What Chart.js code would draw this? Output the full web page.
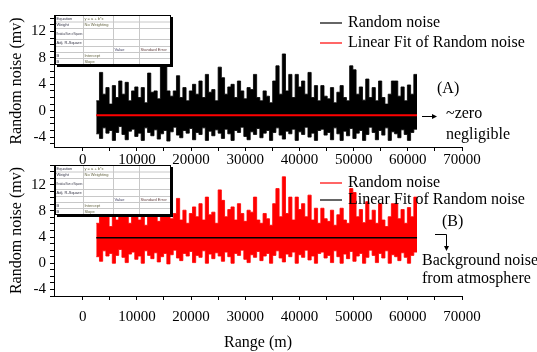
<!DOCTYPE html>
<html><head><meta charset="utf-8">
<script src="https://cdn.jsdelivr.net/npm/chart.js@4/dist/chart.umd.min.js"></script>
<style>
html,body{margin:0;padding:0;background:#fff;}
#wrap{position:relative;width:537px;height:352px;overflow:hidden;}
canvas{position:absolute;left:0;top:0;}
</style></head><body>
<div id="wrap"><canvas id="cA" width="537" height="352"></canvas><canvas id="cB" width="537" height="352"></canvas></div>
<script>
// ---- data ----
const rangeStart = 2500;      // first range sample (m)
const rangeStep = 592;        // spacing between samples (m)
const xTickValues = [0, 10000, 20000, 30000, 40000, 50000, 60000, 70000];
const yTickLabelsA = [-4, 0, 4, 8, 12];
const yTickLabelsB = [-4, 0, 4, 8, 12];
const seriesNames = ['Random noise', 'Linear Fit of Random noise'];

// Panel (A): peaks and troughs of the random noise (mV)
const noiseHighA = [
 1.5, 5.8, 2.5, 3.5, 1.0, 3.8, 2.0, 4.5, 2.5, 4.3,
 1.5, 3.0, 3.6, 2.0, 3.5, 1.2, 5.7, 2.8, 3.0, 1.8,
 7.5, 8.0, 3.0, 2.2, 3.0, 5.3, 2.0, 3.5, 1.5, 3.0,
 4.0, 2.5, 4.5, 2.0, 5.5, 2.8, 3.2, 1.5, 6.6, 5.0,
 2.5, 3.6, 4.0, 2.0, 4.5, 3.0, 1.8, 3.5, 3.2, 5.5,
 2.0, 1.5, 3.0, 2.2, 1.2, 4.5, 6.8, 2.5, 8.6, 3.0,
 5.5, 2.0, 5.5, 3.6, 4.5, 2.5, 5.8, 2.0, 3.8, 1.5,
 3.8, 2.2, 1.8, 3.5, 1.2, 2.8, 3.8, 2.0, 1.5, 6.8,
 6.2, 2.5, 3.6, 1.6, 4.8, 2.0, 3.5, 1.5, 4.5, 2.0,
 1.0, 2.5, 4.5, 4.5, 2.2, 3.6, 1.5, 3.9, 2.5, 5.5
];
const noiseLowA = [
 -3.5,-4.2,-2.6,-3.4,-3.0,-4.5,-3.3,-2.4,-3.6,-4.4,
 -3.1,-2.8,-3.9,-3.4,-4.5,-2.6,-3.3,-3.8,-2.9,-4.3,
 -3.5,-3.0,-4.6,-3.2,-2.5,-3.7,-4.1,-3.0,-3.4,-2.7,
 -4.4,-3.3,-3.6,-2.6,-4.5,-3.1,-3.8,-2.9,-3.4,-4.2,
 -2.8,-3.5,-4.5,-3.0,-3.3,-2.5,-3.9,-4.4,-3.2,-3.6,
 -2.7,-4.1,-3.4,-3.0,-4.5,-3.3,-2.6,-3.7,-4.3,-3.1,
 -3.5,-2.8,-4.5,-3.2,-3.6,-2.5,-4.0,-3.4,-4.5,-3.0,
 -2.8,-3.7,-3.3,-4.4,-2.6,-3.5,-4.5,-3.1,-3.8,-2.7,
 -4.2,-3.4,-3.0,-4.5,-3.6,-2.5,-3.3,-4.4,-3.0,-3.7,
 -2.6,-4.5,-3.2,-3.5,-4.1,-2.9,-3.6,-4.5,-3.3,-2.8
];
// Panel (B): peaks and troughs of the random noise (mV)
const noiseHighB = [
 6.1, 10.4, 7.1, 8.1, 5.6, 8.4, 6.6, 9.1, 7.1, 8.9,
 6.1, 7.6, 8.2, 6.6, 8.1, 5.8, 10.3, 7.4, 7.6, 6.4,
 12.1, 12.6, 7.6, 6.8, 7.6, 9.9, 6.6, 8.1, 6.1, 7.6,
 8.6, 7.1, 9.1, 6.6, 10.1, 7.4, 7.8, 6.1, 11.2, 9.6,
 7.1, 8.2, 8.6, 6.6, 9.1, 7.6, 6.4, 8.1, 7.8, 10.1,
 6.6, 6.1, 7.6, 6.8, 5.8, 9.1, 11.4, 7.1, 13.2, 7.6,
 10.1, 6.6, 10.1, 8.2, 9.1, 7.1, 10.4, 6.6, 8.4, 6.1,
 8.4, 6.8, 6.4, 8.1, 5.8, 7.4, 8.4, 6.6, 6.1, 11.4,
 10.8, 7.1, 8.2, 6.2, 9.4, 6.6, 8.1, 6.1, 9.1, 6.6,
 5.6, 7.1, 9.1, 9.1, 6.8, 8.2, 6.1, 8.5, 7.1, 10.1
];
const noiseLowB = [
 1.0,0.3,1.9,1.1,1.5,0.0,1.2,2.1,0.9,0.1,
 1.4,1.7,0.6,1.1,0.0,1.9,1.2,0.7,1.6,0.2,
 1.0,1.5,-0.1,1.3,2.0,0.8,0.4,1.5,1.1,1.8,
 0.1,1.2,0.9,1.9,0.0,1.4,0.7,1.6,1.1,0.3,
 1.7,1.0,0.0,1.5,1.2,2.0,0.6,0.1,1.3,0.9,
 1.8,0.4,1.1,1.5,0.0,1.2,1.9,0.8,0.2,1.4,
 1.0,1.7,0.0,1.3,0.9,2.0,0.5,1.1,0.0,1.5,
 1.7,0.8,1.2,0.1,1.9,1.0,0.0,1.4,0.7,1.8,
 0.3,1.1,1.5,0.0,0.9,2.0,1.2,0.1,1.5,0.8,
 1.9,0.0,1.3,1.0,0.4,1.6,0.9,0.0,1.2,1.7
];
const fitRange = [2500, 61700];
const fitA = [-0.7, -0.7];
const fitB = [3.9, 3.9];

const tableRows = [
 ['Equation', 'y = a + b*x', '', ''],
 ['Weight', 'No Weighting', '', ''],
 ['Residual Sum of Squares', '', '', ''],
 ['Adj. R-Square', '', '', ''],
 ['', '', 'Value', 'Standard Error'],
 ['B', 'Intercept', '', ''],
 ['B', 'Slope', '', '']
];

// ---- helpers ----
const SERIF = '"Liberation Serif", "DejaVu Serif", serif';
function envelope(vals) {
  const pts = vals.map((v, i) => ({x: rangeStart + i * rangeStep, y: v}));
  pts.push({x: rangeStart + vals.length * rangeStep, y: vals[vals.length - 1]});
  return pts;
}
function lineData(xs, ys) { return xs.map((x, i) => ({x: x, y: ys[i]})); }

function drawTable(ctx, x0, y0) {
  const colX = [x0, x0 + 28, x0 + 58, x0 + 84, x0 + 115];
  const rowY = [y0, y0 + 6.5, y0 + 13, y0 + 24, y0 + 31, y0 + 37, y0 + 43, y0 + 49];
  ctx.save();
  ctx.fillStyle = '#fff';
  ctx.fillRect(colX[0], rowY[0], colX[4] - colX[0], rowY[7] - rowY[0]);
  ctx.strokeStyle = '#c8c8c8';
  ctx.lineWidth = 1;
  for (let r = 1; r < 7; r++) {
    ctx.beginPath(); ctx.moveTo(colX[0], rowY[r] + 0.5); ctx.lineTo(colX[4], rowY[r] + 0.5); ctx.stroke();
  }
  for (let c = 1; c < 4; c++) {
    ctx.beginPath(); ctx.moveTo(colX[c] + 0.5, rowY[0]); ctx.lineTo(colX[c] + 0.5, rowY[7]); ctx.stroke();
  }
  ctx.strokeStyle = '#000';
  ctx.lineWidth = 1;
  ctx.strokeRect(colX[0] + 0.5, rowY[0] + 0.5, colX[4] - colX[0], rowY[7] - rowY[0]);
  ctx.lineWidth = 2;
  ctx.beginPath();
  ctx.moveTo(colX[4] + 2, rowY[0] + 2); ctx.lineTo(colX[4] + 2, rowY[7] + 2); ctx.lineTo(colX[0] + 2, rowY[7] + 2);
  ctx.stroke();
  ctx.font = '4px "Liberation Sans", sans-serif';
  ctx.textBaseline = 'middle';
  ctx.textAlign = 'left';
  const colors = ['#334', '#664', '#446', '#644'];
  tableRows.forEach((row, r) => {
    row.forEach((t, c) => {
      if (!t) return;
      ctx.fillStyle = colors[c];
      ctx.fillText(t, colX[c] + 1.5, (rowY[r] + rowY[r + 1]) / 2 + 0.5, colX[c + 1] - colX[c] - 2);
    });
  });
  ctx.restore();
}

function text(ctx, s, x, y) { ctx.fillText(s, x, y); }

function makePanel(canvasId, cfg) {
  const annot = {
    id: 'annot' + canvasId,
    afterDatasetsDraw(chart) {
      drawTable(chart.ctx, 55, cfg.tableTop);
    },
    afterDraw(chart) {
      const ctx = chart.ctx;
      ctx.save();
      ctx.font = '16px ' + SERIF;
      ctx.fillStyle = '#000';
      ctx.textBaseline = 'middle';
      ctx.textAlign = 'left';
      cfg.legend.forEach(item => {
        ctx.strokeStyle = item.color; ctx.lineWidth = item.width;
        ctx.beginPath(); ctx.moveTo(320, item.y); ctx.lineTo(342, item.y); ctx.stroke();
        text(ctx, item.label, 348, item.y);
      });
      cfg.extra(ctx);
      ctx.restore();
    }
  };
  return new Chart(document.getElementById(canvasId), {
    type: 'line',
    data: {
      datasets: [
        {label: seriesNames[1], data: lineData(fitRange, cfg.fit), borderColor: cfg.fitColor, borderWidth: cfg.fitWidth, pointRadius: 0, order: 0, fill: false},
        {label: seriesNames[0], data: envelope(cfg.high), stepped: 'before', borderColor: cfg.noiseColor, backgroundColor: cfg.noiseColor, borderWidth: 0.8, pointRadius: 0, order: 1, fill: '+1'},
        {label: seriesNames[0] + ' (low)', data: envelope(cfg.low), stepped: 'before', borderColor: cfg.noiseColor, borderWidth: 0.8, pointRadius: 0, order: 2, fill: false}
      ]
    },
    options: {
      responsive: false, animation: false, devicePixelRatio: 1,
      layout: {padding: {top: cfg.padTop, bottom: cfg.padBottom, left: 0, right: 75}},
      plugins: {legend: {display: false}, tooltip: {enabled: false}, filler: {propagate: false}},
      scales: {
        x: {
          type: 'linear', min: -5300, max: 70000,
          afterBuildTicks: s => { const t = []; for (let v = 0; v <= 70000; v += 5000) t.push({value: v}); s.ticks = t; },
          afterFit: s => { s.height = cfg.xHeight; },
          ticks: {autoSkip: false, maxRotation: 0, color: '#000', padding: cfg.xTickPad,
                  font: {family: SERIF, size: 15},
                  callback: v => (xTickValues.includes(v) ? String(v) : '')},
          grid: {drawOnChartArea: false, drawTicks: true, tickLength: 4, color: '#000'},
          border: {color: '#000', width: 1},
          title: {display: cfg.xTitle, text: 'Range (m)', color: '#000', font: {family: SERIF, size: 16}, padding: {top: 0, bottom: 0}}
        },
        y: {
          min: cfg.yMin, max: cfg.yMax,
          afterBuildTicks: s => { const t = []; for (let v = Math.ceil(cfg.yMin); v <= cfg.yMax; v += 1) t.push({value: v}); s.ticks = t; },
          afterFit: s => { s.width = 54; },
          ticks: {autoSkip: false, color: '#000', padding: 4, font: {family: SERIF, size: 15},
                  callback: v => (cfg.yLabels.includes(v) ? String(v) : '')},
          grid: {drawOnChartArea: false, drawTicks: true, tickLength: 4, color: '#000'},
          border: {color: '#000', width: 1},
          title: {display: true, text: 'Random noise (mv)', color: '#000', font: {family: SERIF, size: 16}, padding: {top: 7, bottom: 0}}
        }
      }
    },
    plugins: [annot]
  });
}

makePanel('cA', {
  high: noiseHighA, low: noiseLowA, fit: fitA,
  noiseColor: '#000000', fitColor: '#ff0000', fitWidth: 2,
  yMin: -5.5, yMax: 14.5, yLabels: yTickLabelsA,
  padTop: 15, padBottom: 187, xHeight: 18, xTickPad: 0, xTitle: false, tableTop: 15,
  legend: [{label: seriesNames[0], color: '#000', width: 1.2, y: 23}, {label: seriesNames[1], color: '#ff0000', width: 1.2, y: 43}],
  extra: ctx => {
    text(ctx, '(A)', 437, 89);
    ctx.strokeStyle = '#000'; ctx.lineWidth = 1;
    ctx.beginPath(); ctx.moveTo(422, 116.5); ctx.lineTo(436, 116.5); ctx.stroke();
    ctx.beginPath(); ctx.moveTo(437, 116.5); ctx.lineTo(432, 114); ctx.lineTo(432, 119); ctx.closePath(); ctx.fill();
    text(ctx, '~zero', 446, 114);
    text(ctx, 'negligible', 446, 135);
  }
});

makePanel('cB', {
  high: noiseHighB, low: noiseLowB, fit: fitB,
  noiseColor: '#ff0000', fitColor: '#000000', fitWidth: 1.5,
  yMin: -5, yMax: 15, yLabels: yTickLabelsB,
  padTop: 165, padBottom: 0, xHeight: 56, xTickPad: 8, xTitle: true, tableTop: 165,
  legend: [{label: seriesNames[0], color: '#ff0000', width: 1.2, y: 183}, {label: seriesNames[1], color: '#000', width: 1.2, y: 200}],
  extra: ctx => {
    text(ctx, '(B)', 442, 222);
    ctx.strokeStyle = '#000'; ctx.lineWidth = 1;
    ctx.beginPath(); ctx.moveTo(435, 234.5); ctx.lineTo(446.5, 234.5); ctx.lineTo(446.5, 249); ctx.stroke();
    ctx.beginPath(); ctx.moveTo(446.5, 251); ctx.lineTo(444, 246); ctx.lineTo(449, 246); ctx.closePath(); ctx.fill();
    text(ctx, 'Background noise', 422, 261);
    text(ctx, 'from atmosphere', 422, 279);
  }
});
</script>
</body></html>
